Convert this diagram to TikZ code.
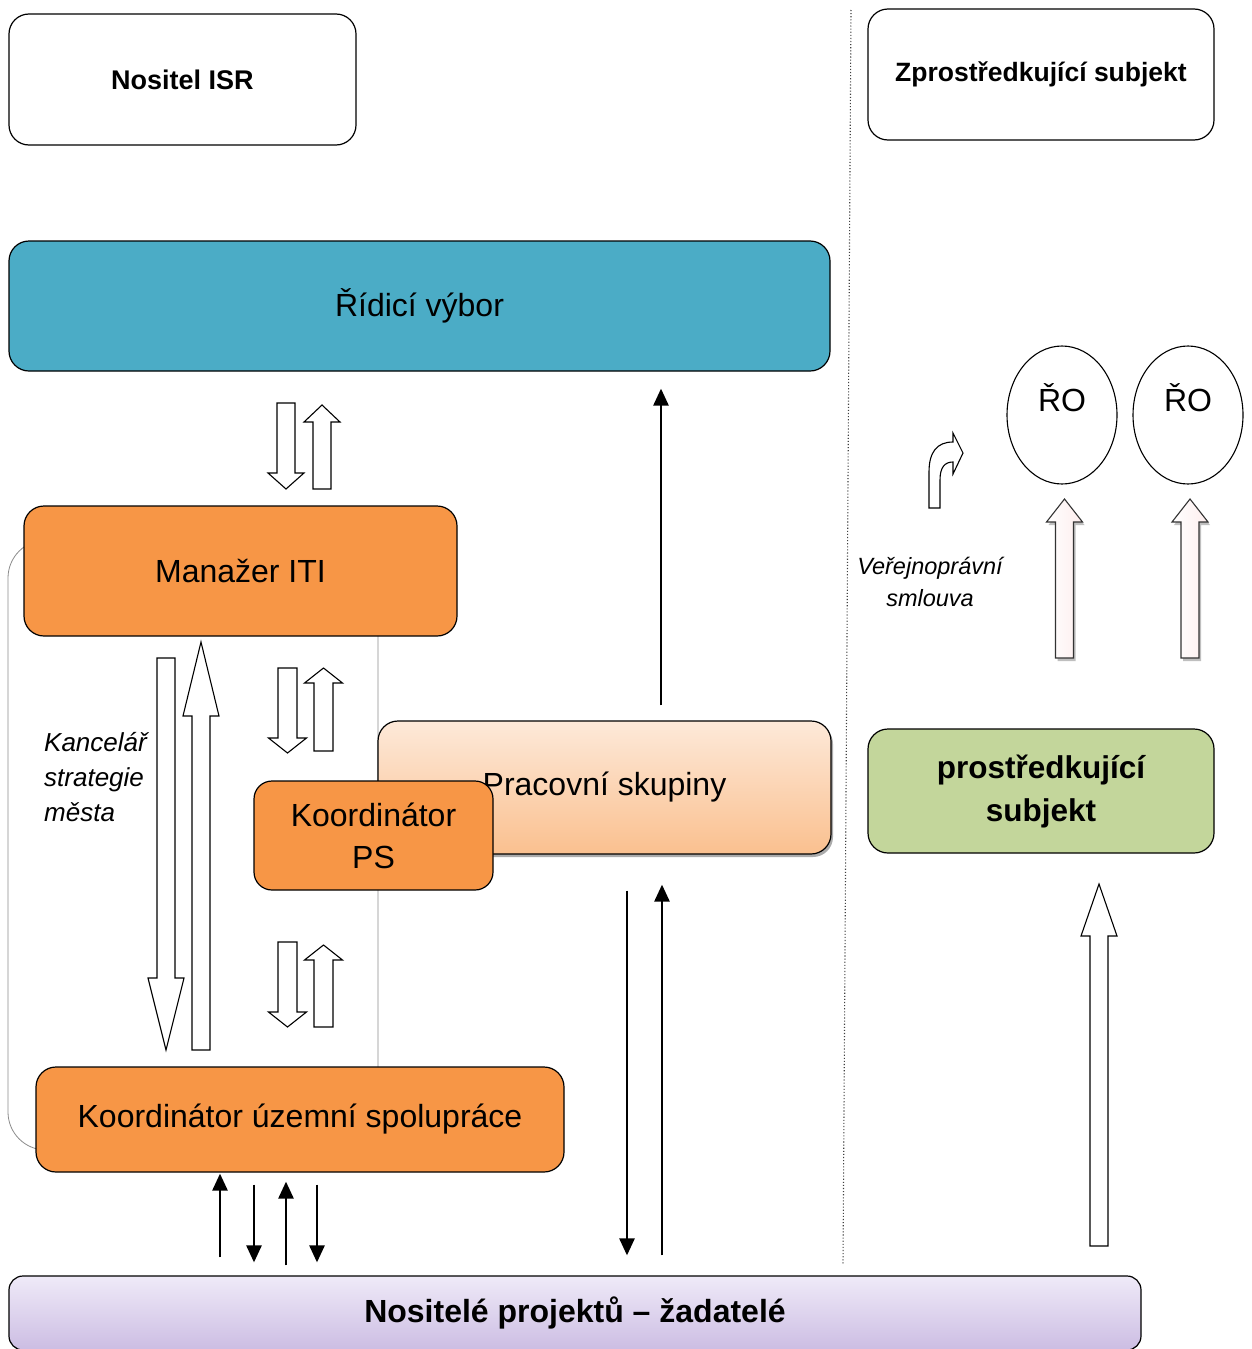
\documentclass[tikz,border=0pt]{standalone}
\usepackage{fontspec}
\setmainfont{Liberation Sans}
\usetikzlibrary{arrows.meta,shapes.geometric,shadows}
\definecolor{teal1}{HTML}{4BACC6}
\definecolor{orng}{HTML}{F79646}
\definecolor{grn}{HTML}{C3D69B}
\definecolor{peachT}{HTML}{FDE9D9}
\definecolor{peachB}{HTML}{FAC08F}
\definecolor{lavT}{HTML}{EFEAF8}
\definecolor{lavB}{HTML}{CCBDE3}
\definecolor{pinkA}{HTML}{FDEDED}
\newcommand\myupblock[6]{%
 \draw[#6] ({#1-#4},#3) -- ({#1-#4},{#2+#5}) -- ({#1-2*#4},{#2+#5}) -- (#1,#2) -- ({#1+2*#4},{#2+#5}) -- ({#1+#4},{#2+#5}) -- ({#1+#4},#3) -- cycle;}
\newcommand\mydownblock[6]{%
 \draw[#6] ({#1-#4},#2) -- ({#1-#4},{#3-#5}) -- ({#1-2*#4},{#3-#5}) -- (#1,#3) -- ({#1+2*#4},{#3-#5}) -- ({#1+#4},{#3-#5}) -- ({#1+#4},#2) -- cycle;}
\begin{document}
\begin{tikzpicture}[x=1pt,y=-1pt,
  box/.style={draw=black, line width=1.2pt, rounded corners=20pt, inner sep=0pt, align=center},
  bodyfont/.style={font=\fontsize{32}{42}\selectfont},
  blockarrow/.style={draw=black, line width=1.1pt, fill=white, line join=miter},
  pinkarrow/.style={draw=black!80, line width=1.1pt, left color=white, right color=pinkA, line join=miter,
     drop shadow={shadow xshift=2pt, shadow yshift=-3pt, opacity=0.5, fill=black!50}},
  thinarrow/.style={line width=2.6pt, -{Triangle[width=15pt,length=17pt]}},
  ro/.style={ellipse, draw=black, line width=1.1pt, minimum width=110pt, minimum height=138pt, inner sep=0pt,
     text height=25pt, text depth=33pt, font=\fontsize{32}{38}\selectfont}
]
\useasboundingbox (0,0) rectangle (1251,1349);
\fill[white] (0,0) rectangle (1251,1349);

% background outline of the city strategy office
\draw[black!45, line width=0.8pt, rounded corners=38pt] (8,540) rectangle (378,1150);
% separator
\draw[black!75, dotted, line width=1.1pt] (851,10) -- (843,1265);

% boxes
\node[box, minimum width=347pt, minimum height=131pt, font=\fontsize{27}{32}\selectfont\bfseries] (nositel) at (182.5,79.5) {Nositel ISR};
\node[box, minimum width=346pt, minimum height=131pt, font=\fontsize{26.5}{32}\selectfont\bfseries] (zprost) at (1041,74.5) {Zprostředkující subjekt};
\node[box, bodyfont, fill=teal1, minimum width=821pt, minimum height=130pt] (ridici) at (419.5,306) {Řídicí výbor};
\node[box, bodyfont, fill=orng, minimum width=433pt, minimum height=130pt] (manazer) at (240.5,571) {Manažer ITI};
\node[box, bodyfont, top color=peachT, bottom color=peachB, minimum width=453pt, minimum height=133pt,
  drop shadow={shadow xshift=2pt, shadow yshift=-3pt, opacity=0.6, fill=black!55}] (prac) at (604.5,787.5) {Pracovní skupiny};
\node[box, bodyfont, fill=orng, minimum width=239pt, minimum height=109pt, rounded corners=18pt] (koordps) at (373.5,835.5) {Koordinátor\\PS};
\node[box, bodyfont, fill=orng, minimum width=528pt, minimum height=105pt] (koordus) at (300,1119.5) {Koordinátor územní spolupráce};
\node[box, font=\fontsize{32}{42}\selectfont\bfseries, top color=lavT, bottom color=lavB, minimum width=1132pt, minimum height=74pt, rounded corners=14pt] (nositele) at (575,1313) {Nositelé projektů – žadatelé};
\node[box, font=\fontsize{31.5}{43}\selectfont\bfseries, fill=grn, minimum width=346pt, minimum height=124pt] (prostr) at (1041,791) {prostředkující\\subjekt};
\node[ro] (ro1) at (1062,415) {ŘO};
\node[ro] (ro2) at (1188,415) {ŘO};

% labels
\node[anchor=west, align=left, font=\fontsize{26}{35}\selectfont\itshape, inner sep=0pt] (kanc) at (44,777) {Kancelář\\strategie\\města};
\node[align=center, font=\fontsize{23.5}{31.5}\selectfont\itshape, inner sep=0pt] (verej) at (930,582) {Veřejnoprávní\\smlouva};

% block arrows
\mydownblock{286}{403}{489}{9}{16}{blockarrow}
\myupblock{322}{405}{489}{9}{17}{blockarrow}
\mydownblock{287.5}{668}{753}{9.5}{15}{blockarrow}
\myupblock{323.5}{668}{751}{9.5}{15}{blockarrow}
\mydownblock{287.5}{942}{1027}{9.5}{15}{blockarrow}
\myupblock{323.5}{945}{1027}{9.5}{15}{blockarrow}
\mydownblock{166}{658}{1050}{9}{72}{blockarrow}
\myupblock{201}{642}{1050}{9}{74}{blockarrow}
\myupblock{1099}{884}{1246}{9}{52}{blockarrow}
\myupblock{1064.5}{499}{658}{9}{23}{pinkarrow}
\myupblock{1190}{499}{658}{9}{23}{pinkarrow}
% bent arrow
\draw[blockarrow] (929,508) -- (929,472) .. controls (929,452) and (937,442) .. (953,442) -- (953,433) -- (963,453) -- (953,474) -- (953,462) .. controls (945,462) and (940,467) .. (940,480) -- (940,508) -- cycle;

% thin arrows
\draw[thinarrow, shorten <=15pt, shorten >=17pt] ([xshift=56.5pt]prac.north) -- ([xshift=241.5pt]ridici.south);
\draw[thinarrow, shorten <=36pt, shorten >=20pt] ([xshift=22.5pt]prac.south) -- ([xshift=52pt]nositele.north);
\draw[thinarrow, shorten <=20pt, shorten >=30pt] ([xshift=87pt]nositele.north) -- ([xshift=57.5pt]prac.south);
\draw[thinarrow, shorten <=18pt, shorten >=1pt] ([xshift=-355pt]nositele.north) -- ([xshift=-80pt]koordus.south);
\draw[thinarrow, shorten <=12pt, shorten >=13pt] ([xshift=-46pt]koordus.south) -- ([xshift=-321pt]nositele.north);
\draw[thinarrow, shorten <=10pt, shorten >=9pt] ([xshift=-289pt]nositele.north) -- ([xshift=-14pt]koordus.south);
\draw[thinarrow, shorten <=12pt, shorten >=13pt] ([xshift=17pt]koordus.south) -- ([xshift=-258pt]nositele.north);
\end{tikzpicture}
\end{document}
